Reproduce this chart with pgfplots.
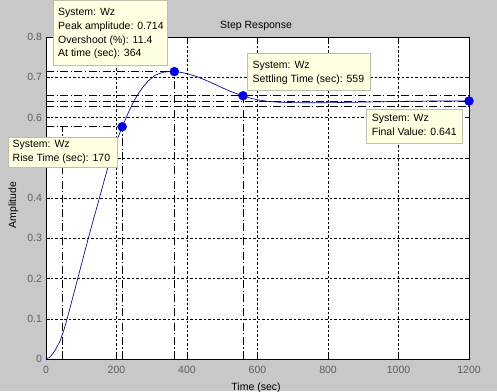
\documentclass[border=0pt]{standalone}
\usepackage{fontspec}
\setmainfont{Liberation Sans}
\usepackage{pgfplots}
\pgfplotsset{compat=1.18}
\definecolor{figbg}{RGB}{200,200,200}
\definecolor{tipbg}{RGB}{255,255,225}
\definecolor{tipbd}{RGB}{190,190,170}
\definecolor{curve}{RGB}{0,0,140}
\definecolor{mk}{RGB}{0,0,225}
\definecolor{ticklab}{RGB}{95,95,95}
\newcommand{\tf}{\fontsize{10.5bp}{13.8bp}\selectfont}
\begin{document}
\begin{tikzpicture}[x=1bp,y=1bp]
\path[use as bounding box] (0,0) rectangle (497,391);
\fill[figbg] (0,0) rectangle (497,391);
\begin{axis}[
  at={(46bp,32bp)}, anchor=south west,
  scale only axis, width=423bp, height=322bp,
  xmin=0, xmax=1200, ymin=0, ymax=0.8,
  xtick={0,200,400,600,800,1000,1200},
  xticklabels={0,200,400,600,800,1000,1200},
  ytick={0,0.1,0.2,0.3,0.4,0.5,0.6,0.7,0.8},
  yticklabels={0,0.1,0.2,0.3,0.4,{},0.6,0.7,0.8},
  axis background/.style={fill=white},
  axis line style={black, line width=0.6bp},
  tick align=inside, major tick length=4bp,
  every tick/.style={black, line width=0.5bp},
  grid=major,
  major grid style={black, line width=0.4bp, dash pattern=on 2.5bp off 2bp},
  tick label style={font=\tf, text=ticklab},
  xticklabel style={anchor=base, yshift=-14bp},
  yticklabel style={anchor=east, xshift=-0.5bp},
  /pgf/number format/assume math mode=true,
]
% characteristic lines
\addplot[black, line width=0.6bp, dash pattern=on 8bp off 2.5bp on 1.2bp off 2.5bp] coordinates {(0,0.577) (216,0.577)};
\addplot[black, line width=0.6bp, dash pattern=on 8bp off 2.5bp on 1.2bp off 2.5bp] coordinates {(46,0) (46,0.577)};
\addplot[black, line width=0.6bp, dash pattern=on 8bp off 2.5bp on 1.2bp off 2.5bp] coordinates {(216,0) (216,0.577)};
\addplot[black, line width=0.6bp, dash pattern=on 8bp off 2.5bp on 1.2bp off 2.5bp] coordinates {(0,0.714) (364,0.714)};
\addplot[black, line width=0.6bp, dash pattern=on 8bp off 2.5bp on 1.2bp off 2.5bp] coordinates {(364,0) (364,0.714)};
\addplot[black, line width=0.6bp, dash pattern=on 8bp off 2.5bp on 1.2bp off 2.5bp] coordinates {(559,0) (559,0.654)};
\addplot[black, line width=0.6bp, dash pattern=on 8bp off 2.5bp on 1.2bp off 2.5bp] coordinates {(0,0.654) (1200,0.654)};
\addplot[black, line width=0.6bp, dash pattern=on 8bp off 2.5bp on 1.2bp off 2.5bp] coordinates {(0,0.641) (1200,0.641)};
\addplot[black, line width=0.6bp, dash pattern=on 8bp off 2.5bp on 1.2bp off 2.5bp] coordinates {(0,0.628) (1200,0.628)};
% step response
\addplot[curve, line width=0.65bp] coordinates {
(0,0) (10,0.004) (20,0.014) (30,0.028) (40,0.045) (50,0.07) (60,0.10)
(75,0.15) (90,0.20) (105,0.25) (120,0.30) (135,0.348) (150,0.395)
(165,0.443) (180,0.49) (200,0.54) (216,0.577) (235,0.615) (250,0.642)
(270,0.670) (290,0.691) (310,0.705) (330,0.712) (350,0.7145) (364,0.714)
(380,0.7125) (400,0.709) (430,0.701) (460,0.690) (490,0.678) (520,0.666)
(545,0.658) (559,0.654) (580,0.648) (600,0.644) (630,0.640) (660,0.638)
(700,0.637) (760,0.6365) (820,0.637) (880,0.638) (940,0.639) (1000,0.640)
(1100,0.641) (1200,0.641)};
\addplot[only marks, mark=*, mark size=4.5bp, color=mk] coordinates {
(216,0.577) (364,0.714) (559,0.654) (1200,0.641)};
\end{axis}
% titles
\node[font=\tf, anchor=base] at (256,363) {Step Response};
\node[font=\tf, anchor=base] at (256,1) {Time (sec)};
\node[font=\tf, anchor=base, rotate=90] at (16,186) {Amplitude};
% datatips
\filldraw[fill=tipbg, draw=tipbd, line width=0.5bp] (53,391) rectangle (167,326);
\node[font=\tf, anchor=north west, inner sep=0pt, align=left] at (58,383)
 {System: Wz\\Peak amplitude: 0.714\\Overshoot (\%): 11.4\\At time (sec): 364};
\filldraw[fill=tipbg, draw=tipbd, line width=0.5bp] (8,254) rectangle (117,224);
\node[font=\tf, anchor=north west, inner sep=0pt, align=left] at (12.5,251)
 {System: Wz\\Rise Time (sec): 170};
\filldraw[fill=tipbg, draw=tipbd, line width=0.5bp] (247,338) rectangle (370,301);
\node[font=\tf, anchor=north west, inner sep=0pt, align=left] at (252.5,330.3)
 {System: Wz\\Settling Time (sec): 559};
\filldraw[fill=tipbg, draw=tipbd, line width=0.5bp] (366.7,281.7) rectangle (462.7,248);
\node[font=\tf, anchor=north west, inner sep=0pt, align=left] at (371.7,277)
 {System: Wz\\Final Value: 0.641};
\end{tikzpicture}
\end{document}
